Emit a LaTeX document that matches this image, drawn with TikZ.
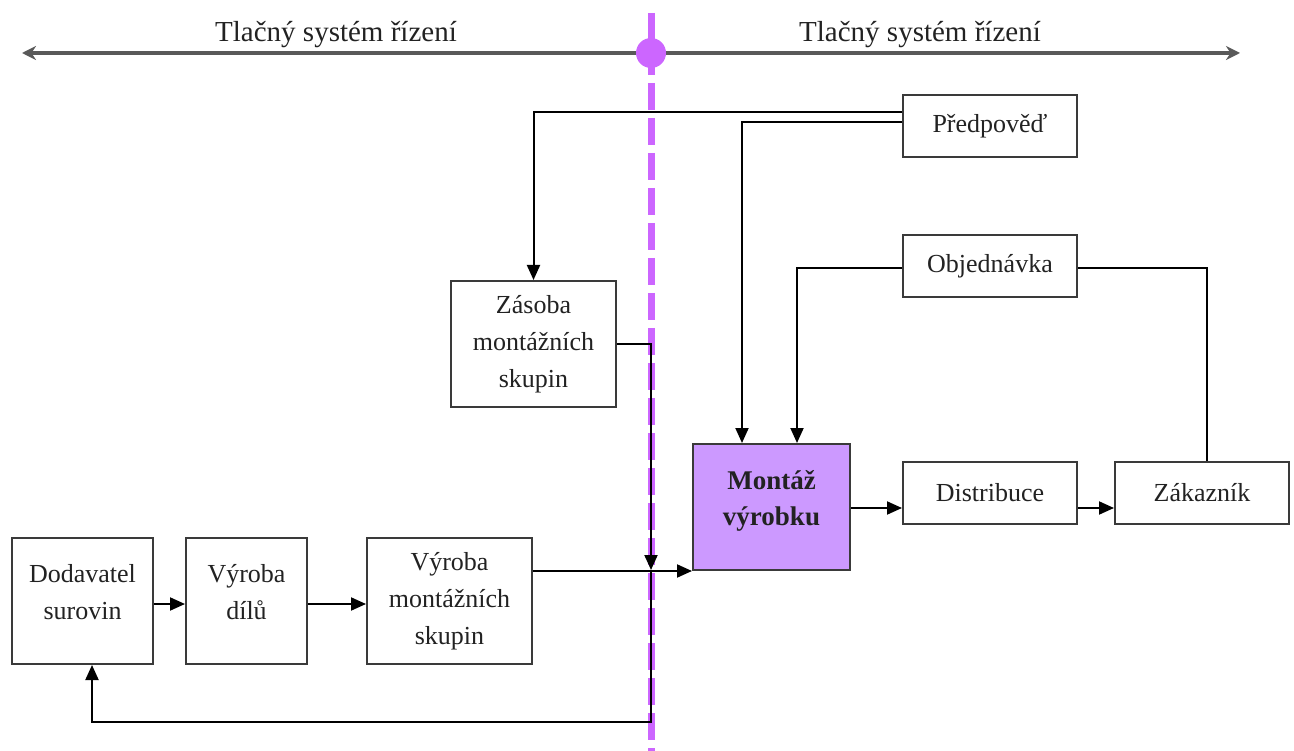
\documentclass[tikz,border=0pt]{standalone}
\usepackage{fontspec}
\setmainfont{Liberation Serif}
\usetikzlibrary{arrows.meta}
\definecolor{boxline}{HTML}{3A3A3A}
\definecolor{axisgray}{HTML}{595959}
\definecolor{divider}{HTML}{CC66FF}
\definecolor{assembly}{HTML}{CC99FF}
\definecolor{txt}{HTML}{222222}
\begin{document}
\begin{tikzpicture}[x=1pt,y=-1pt,
  every node/.style={font=\fontsize{26}{37}\selectfont, text=txt},
  box/.style={draw=boxline, line width=2pt, fill=white, inner sep=0pt, align=center},
  lbl/.style={align=center, inner sep=0pt},
  conn/.style={draw=black, line width=2pt},
  tip/.style={-{Triangle[length=15pt,width=13pt]}},
  axis/.style={draw=axisgray, line width=4pt, {Stealth[length=14pt,width=14pt]}-{Stealth[length=14pt,width=14pt]}},
  sep/.style={draw=divider, line width=7pt, dash pattern=on 27pt off 8pt},
  axlabel/.style={font=\fontsize{29}{34}\selectfont}
]
\useasboundingbox (0,0) rectangle (1294,751);

% control-system axis with the push/pull boundary
\coordinate (axL) at (22,53);
\coordinate (axR) at (1240,53);
\draw[axis] (axL) -- (axR);
\node[axlabel] (tl) at (336,35) {Tlačný systém řízení};
\node[axlabel] (tr) at (920,35) {Tlačný systém řízení};
\coordinate (sepT) at (651,13);
\coordinate (sepB) at (651,751);
\draw[sep] (sepT) -- (sepB);
\fill[divider] (651,53) circle[radius=15];

% process boxes
\node[box, minimum width=174pt, minimum height=62pt] (pred) at (990,126) {Předpověď};
\node[box, minimum width=174pt, minimum height=62pt] (obj) at (990,266) {Objednávka};
\node[box, minimum width=165pt, minimum height=126pt] (zas) at (533.5,344) {Zásoba\\montážních\\skupin};
\node[box, fill=assembly, minimum width=157pt, minimum height=126pt,
      label={[lbl, yshift=6pt, font=\fontsize{27}{36}\selectfont\bfseries]center:Montáž\\výrobku}] (mont) at (771.5,507) {};
\node[box, minimum width=174pt, minimum height=62pt] (dist) at (990,493) {Distribuce};
\node[box, minimum width=174pt, minimum height=62pt] (zak) at (1202,493) {Zákazník};
\node[box, minimum width=141pt, minimum height=126pt,
      label={[lbl, yshift=9pt]center:Dodavatel\\surovin}] (dod) at (82.5,601) {};
\node[box, minimum width=121pt, minimum height=126pt,
      label={[lbl, yshift=9pt]center:Výroba\\dílů}] (vdil) at (246.5,601) {};
\node[box, minimum width=165pt, minimum height=126pt] (vms) at (449.5,601) {Výroba\\montážních\\skupin};

% forecast and order flows
\draw[conn, tip] ([yshift=14pt]pred.west) -| (zas.north);
\draw[conn, tip] ([yshift=4pt]pred.west) -| ([xshift=-29.5pt]mont.north);
\draw[conn, tip] ([yshift=-2pt]obj.west) -| ([xshift=25.5pt]mont.north);
\draw[conn] ([yshift=-2pt]obj.east) -| ([xshift=5pt]zak.north);

% material flow
\coordinate (join) at (651,570);
\coordinate (back) at (651,722);
\draw[conn, tip] (zas.east) -| (join);
\draw[conn, tip] ([yshift=30pt]vms.east) -- ([yshift=30pt]vms.east -| mont.west);
\draw[conn, tip] (join) -- (back) -| ([xshift=9.5pt]dod.south);
\draw[conn, tip] ([yshift=-3pt]dod.east) -- ([yshift=-3pt]vdil.west);
\draw[conn, tip] ([yshift=-3pt]vdil.east) -- ([yshift=-3pt]vms.west);
\draw[conn, tip] ([yshift=-15pt]dist.west -| mont.east) -- ([yshift=-15pt]dist.west);
\draw[conn, tip] ([yshift=-15pt]dist.east) -- ([yshift=-15pt]zak.west);
\end{tikzpicture}
\end{document}
